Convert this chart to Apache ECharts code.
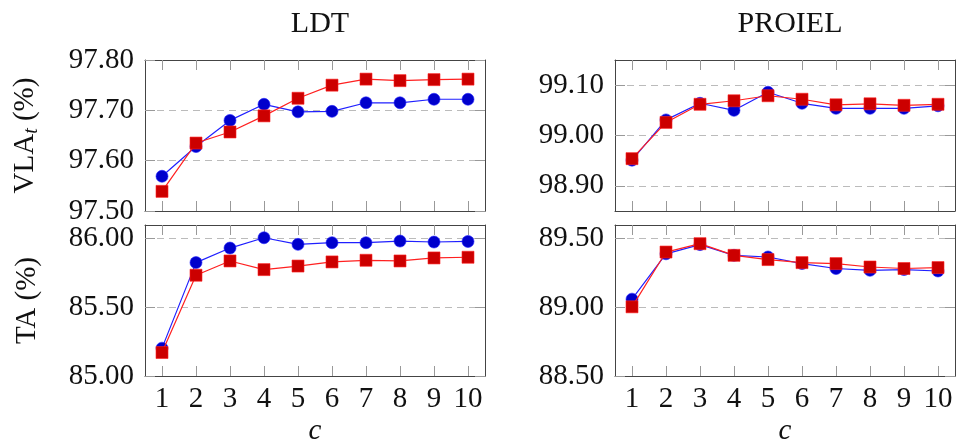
<!DOCTYPE html>
<html>
<head>
<meta charset="utf-8">
<script src="https://cdn.jsdelivr.net/npm/echarts@6/dist/echarts.min.js"></script>
<style>
html,body{margin:0;padding:0;background:#fff;}
#chart{width:959px;height:441px;}
</style>
</head>
<body>
<div id="chart"></div>
<script>
// ---- data ----
const cValues = ['1','2','3','4','5','6','7','8','9','10'];

const ldtVlaBlue = [97.569, 97.628, 97.680, 97.712, 97.697, 97.698, 97.715, 97.715, 97.722, 97.722];
const ldtVlaRed  = [97.539, 97.635, 97.657, 97.689, 97.724, 97.750, 97.762, 97.759, 97.761, 97.762];
const ldtTaBlue  = [85.203, 85.826, 85.932, 86.007, 85.959, 85.971, 85.971, 85.983, 85.976, 85.980];
const ldtTaRed   = [85.171, 85.734, 85.838, 85.775, 85.801, 85.831, 85.843, 85.838, 85.860, 85.865];

const proielVlaBlue = [98.951, 99.031, 99.064, 99.050, 99.086, 99.064, 99.054, 99.054, 99.054, 99.059];
const proielVlaRed  = [98.954, 99.026, 99.062, 99.069, 99.079, 99.072, 99.061, 99.063, 99.060, 99.062];
const proielTaBlue  = [89.060, 89.390, 89.457, 89.379, 89.367, 89.319, 89.283, 89.270, 89.275, 89.265];
const proielTaRed   = [89.004, 89.403, 89.464, 89.379, 89.348, 89.326, 89.319, 89.294, 89.283, 89.290];

const ticksLdtVla = [97.5, 97.6, 97.7, 97.8];
const ticksLdtTa = [85.0, 85.5, 86.0];
const ticksProielVla = [98.9, 99.0, 99.1];
const ticksProielTa = [88.5, 89.0, 89.5];

const titles = ['LDT', 'PROIEL'];
const xName = 'c';

// ---- layout / style ----
const FONT = 'Liberation Serif';
const FS = 29;
const BORDER = '#444';
const TICKC = '#999';
const BLUE_LINE = '#2020ff', BLUE_FILL = '#0000cc';
const RED_LINE = '#ff2020', RED_FILL = '#cc0000';

const panels = [
  {left:145, top:60,  blue:ldtVlaBlue,    red:ldtVlaRed,    min:97.5,  max:97.8,  ticks:ticksLdtVla,    yname:'{a|VLA}{s|t}{a| (%)}', showX:false},
  {left:615, top:60,  blue:proielVlaBlue, red:proielVlaRed, min:98.85, max:99.15, ticks:ticksProielVla, yname:'', showX:false},
  {left:145, top:225, blue:ldtTaBlue,     red:ldtTaRed,     min:85.0,  max:86.1,  ticks:ticksLdtTa,     yname:'{a|TA (%)}', showX:true},
  {left:615, top:225, blue:proielTaBlue,  red:proielTaRed,  min:88.5,  max:89.6,  ticks:ticksProielTa,  yname:'', showX:true}
];

const grid = [], xAxis = [], yAxis = [], series = [];
panels.forEach((p, i) => {
  grid.push({left:p.left, top:p.top, width:340, height:151, containLabel:false, outerBoundsMode:'none'});
  // bottom x
  xAxis.push({
    type:'category', data:cValues, gridIndex:i, position:'bottom', boundaryGap:true,
    axisLine:{show:true, lineStyle:{color:BORDER, width:1}},
    axisTick:{show:true, inside:true, alignWithLabel:true, interval:0, length:10, lineStyle:{color:TICKC}},
    axisLabel:{show:p.showX, interval:0, color:'#111', fontFamily:FONT, fontSize:FS, margin:9},
    name: p.showX ? xName : '', nameLocation:'middle', nameGap:41,
    nameTextStyle:{fontFamily:FONT, fontSize:FS, fontStyle:'italic', color:'#111'},
    splitLine:{show:false}
  });
  // top x (ticks only)
  xAxis.push({
    type:'category', data:cValues, gridIndex:i, position:'top', boundaryGap:true,
    axisLine:{show:true, lineStyle:{color:BORDER, width:1}},
    axisTick:{show:true, inside:true, alignWithLabel:true, interval:0, length:10, lineStyle:{color:TICKC}},
    axisLabel:{show:false}, splitLine:{show:false}
  });
  yAxis.push({
    type:'value', gridIndex:i, position:'left', min:p.min, max:p.max,
    axisLine:{show:true, lineStyle:{color:BORDER, width:1}},
    axisTick:{show:true, inside:true, length:10, customValues:p.ticks, lineStyle:{color:TICKC}},
    axisLabel:{show:true, customValues:p.ticks, formatter:v => v.toFixed(2), color:'#111', fontFamily:FONT, fontSize:FS, margin:11},
    splitLine:{show:true, lineStyle:{color:'#bbb', type:[7,5], width:1}},
    name:p.yname, nameLocation:'middle', nameGap:103, nameRotate:90,
    nameTextStyle:{color:'#111', rich:{
      a:{fontFamily:FONT, fontSize:FS, color:'#111'},
      s:{fontFamily:FONT, fontSize:20, fontStyle:'italic', color:'#111', verticalAlign:'bottom', padding:[14,0,0,0]}
    }}
  });
  yAxis.push({
    type:'value', gridIndex:i, position:'right', min:p.min, max:p.max,
    axisLine:{show:true, lineStyle:{color:BORDER, width:1}},
    axisTick:{show:true, inside:true, length:10, customValues:p.ticks, lineStyle:{color:TICKC}},
    axisLabel:{show:false, customValues:p.ticks}, splitLine:{show:false}
  });
  series.push({
    type:'line', xAxisIndex:2*i, yAxisIndex:2*i, data:p.blue,
    symbol:'circle', symbolSize:12,
    lineStyle:{color:BLUE_LINE, width:1.2}, itemStyle:{color:BLUE_FILL, borderColor:BLUE_LINE, borderWidth:0.6},
    animation:false, z:3
  });
  series.push({
    type:'line', xAxisIndex:2*i, yAxisIndex:2*i, data:p.red,
    symbol:'rect', symbolSize:12,
    lineStyle:{color:RED_LINE, width:1.2}, itemStyle:{color:RED_FILL, borderColor:RED_LINE, borderWidth:0.6},
    animation:false, z:4
  });
});

const chart = echarts.init(document.getElementById('chart'), null, {renderer:'canvas'});
chart.setOption({
  animation:false,
  backgroundColor:'#fff',
  title:[
    {text:titles[0], left:315, top:4, textAlign:'center', textStyle:{fontFamily:FONT, fontSize:30, fontWeight:'normal', color:'#111'}},
    {text:titles[1], left:785, top:4, textAlign:'center', textStyle:{fontFamily:FONT, fontSize:30, fontWeight:'normal', color:'#111'}}
  ],
  grid, xAxis, yAxis, series
});
</script>
</body>
</html>
